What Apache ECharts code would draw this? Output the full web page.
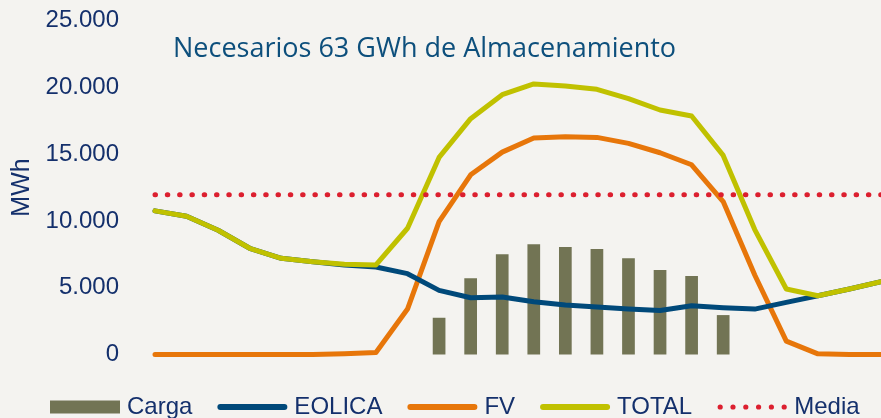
<!DOCTYPE html>
<html>
<head>
<meta charset="utf-8">
<script src="https://cdn.jsdelivr.net/npm/echarts@6/dist/echarts.min.js"></script>
<style>
html,body{margin:0;padding:0;background:#f4f3f0;}
#chart{width:881px;height:418px;}
</style>
</head>
<body>
<div id="chart"></div>
<script>
// ---- data ----
const hours = ['1','2','3','4','5','6','7','8','9','10','11','12','13','14','15','16','17','18','19','20','21','22','23','24'];
const carga  = [null,null,null,null,null,null,null,null,null,2750,5700,7500,8250,8050,7900,7200,6325,5875,2950,null,null,null,null,null];
const eolica = [10750,10350,9300,7950,7200,6950,6700,6550,6050,4800,4250,4300,3950,3700,3550,3400,3300,3650,3500,3400,3900,4400,4900,5450];
const fv     = [0,0,0,0,0,0,50,150,3400,9950,13450,15150,16200,16300,16250,15800,15100,14200,11450,5950,1000,50,0,0];
const total  = [10750,10350,9300,7950,7200,6950,6750,6700,9450,14750,17650,19450,20250,20100,19850,19150,18300,17850,14900,9350,4900,4400,4900,5450];
const media  = [11950,11950,11950,11950,11950,11950,11950,11950,11950,11950,11950,11950,11950,11950,11950,11950,11950,11950,11950,11950,11950,11950,11950,11950];
const yTickLabels = ['0','5.000','10.000','15.000','20.000','25.000'];
const titleText = 'Necesarios 63 GWh de Almacenamiento';
const yName = 'MWh';

const C_BAR = '#727454', C_EOL = '#00497a', C_FV = '#e7760a', C_TOT = '#c0c100', C_MED = '#dc1f2f';
const TXT = '#14306c';

const lineIcon = 'path://M3,0 H67 A3,3 0 0,1 67,6 H3 A3,3 0 0,1 3,0 Z';
let dots = '';
for (let k = 0; k < 6; k++) {
  const cx = 3 + 12.8 * k;
  dots += 'M' + (cx - 2.6) + ',3 a2.6,2.6 0 1,0 5.2,0 a2.6,2.6 0 1,0 -5.2,0 ';
}
const dotIcon = 'path://' + dots + 'M0,0 M70,6';

const chart = echarts.init(document.getElementById('chart'), null, {renderer: 'canvas'});
const lineBase = (name, data, color, z) => ({
  name, type: 'line', data, symbol: 'none', z,
  lineStyle: {color, width: 5, cap: 'round', join: 'round'},
  itemStyle: {color},
  animation: false
});
chart.setOption({
  backgroundColor: '#f4f3f0',
  animation: false,
  title: {
    text: titleText, left: 173, top: 36, padding: 0,
    textStyle: {fontFamily: 'Open Sans', fontSize: 27, fontWeight: 'normal', color: '#0d4f7c'}
  },
  grid: {left: 155, right: 0, top: 20.5, bottom: 63.5, containLabel: false},
  xAxis: {
    type: 'category', data: hours, boundaryGap: false,
    axisLine: {show: false}, axisTick: {show: false}, axisLabel: {show: false}, splitLine: {show: false}
  },
  yAxis: {
    type: 'value', min: 0, max: 25000, interval: 5000,
    name: yName, nameLocation: 'middle', nameGap: 120, nameRotate: 90,
    nameTextStyle: {fontFamily: 'Liberation Sans', fontSize: 25, color: TXT},
    axisLine: {show: false}, axisTick: {show: false}, splitLine: {show: false},
    axisLabel: {
      margin: 36, fontFamily: 'Liberation Sans', fontSize: 24, color: TXT,
      formatter: v => yTickLabels[Math.round(v / 5000)]
    }
  },
  legend: {
    left: 50, top: 395, padding: 0, itemWidth: 70, itemHeight: 13, itemGap: 25,
    textStyle: {fontFamily: 'Liberation Sans', fontSize: 24, color: TXT, padding: [0, 0, 0, 2]},
    itemStyle: {borderWidth: 0},
    data: [
      {name: 'Carga', icon: 'rect', itemStyle: {color: C_BAR}},
      {name: 'EOLICA', icon: lineIcon, itemStyle: {color: C_EOL}},
      {name: 'FV', icon: lineIcon, itemStyle: {color: C_FV}},
      {name: 'TOTAL', icon: lineIcon, itemStyle: {color: C_TOT}},
      {name: 'Media', icon: dotIcon, itemStyle: {color: C_MED}}
    ]
  },
  series: [
    {name: 'Carga', type: 'bar', data: carga, barWidth: 12.7, itemStyle: {color: C_BAR}, z: 1, animation: false},
    lineBase('FV', fv, C_FV, 2),
    lineBase('EOLICA', eolica, C_EOL, 3),
    lineBase('TOTAL', total, C_TOT, 4),
    {
      name: 'Media', type: 'line', data: media, symbol: 'none', z: 5,
      lineStyle: {color: C_MED, width: 5, type: [0.5, 11.8], cap: 'round'},
      itemStyle: {color: C_MED}, animation: false
    }
  ]
});
</script>
</body>
</html>
